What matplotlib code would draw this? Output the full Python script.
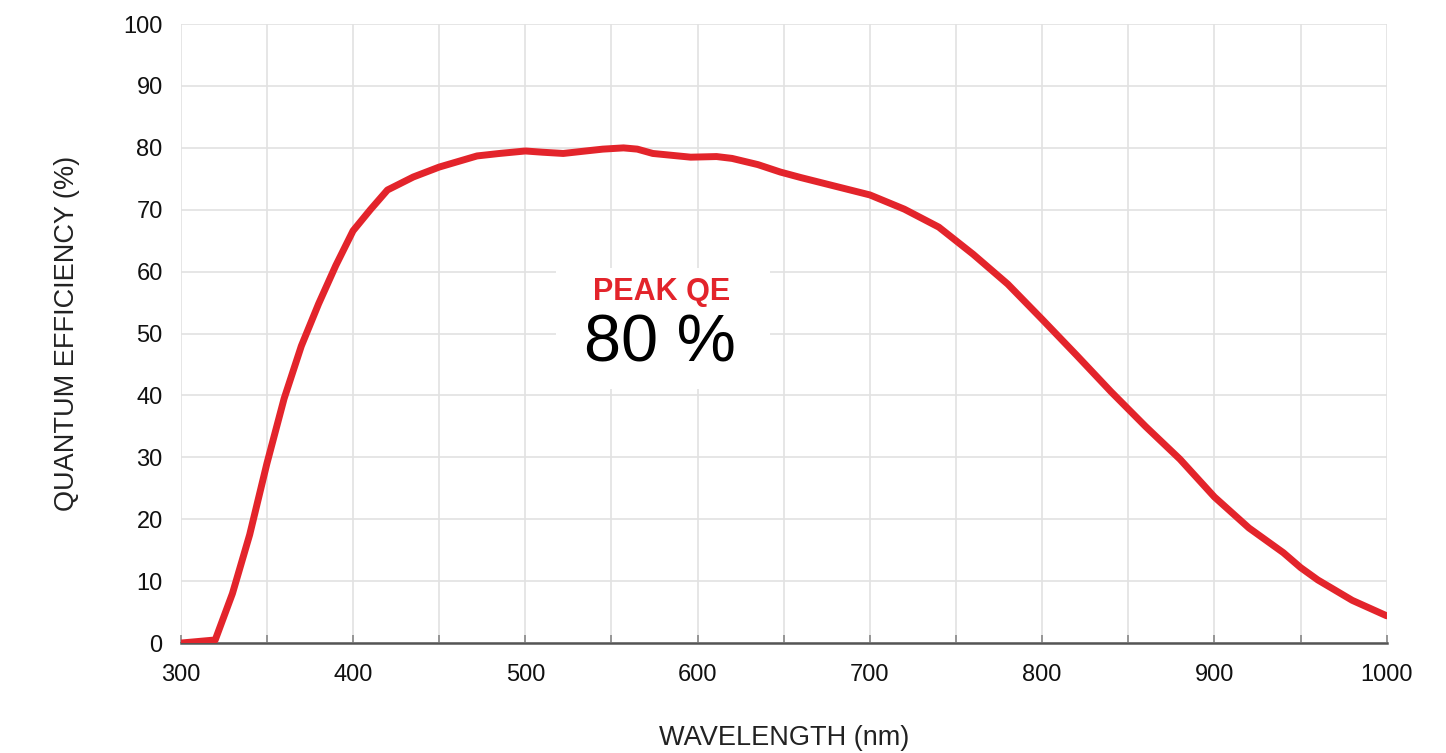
import numpy as np
import matplotlib.pyplot as plt
from matplotlib.patches import Rectangle

# QE curve
wavelength = [300, 320, 330, 340, 350, 360, 370, 380, 390, 400, 410, 420, 435, 450,
              472, 485, 500, 510, 522, 535, 545, 557, 565, 574, 585, 596, 611, 620,
              635, 648, 660, 680, 700, 720, 740, 760, 780, 800, 820, 840, 860, 880,
              900, 920, 940, 950, 960, 980, 1000]
qe = [0.0, 0.5, 8.0, 17.5, 29.0, 39.5, 48.0, 54.8, 61.0, 66.6, 70.0, 73.2, 75.3, 76.9,
      78.7, 79.1, 79.5, 79.3, 79.1, 79.5, 79.8, 80.0, 79.8, 79.1, 78.8, 78.5, 78.6, 78.3,
      77.3, 76.1, 75.2, 73.8, 72.4, 70.1, 67.2, 62.8, 58.0, 52.3, 46.5, 40.6, 35.0, 29.7,
      23.6, 18.6, 14.6, 12.2, 10.2, 6.9, 4.4]

peak_label = "PEAK QE"
peak_value = "80 %"

red = '#e3242b'
plt.rcParams['font.family'] = ['Liberation Sans', 'DejaVu Sans']

fig = plt.figure(figsize=(14.46, 7.53), dpi=100)
ax = fig.add_axes([0.125, 0.146, 0.834, 0.822])

ax.plot(wavelength, qe, color=red, lw=5.0, solid_capstyle='round',
        solid_joinstyle='round', zorder=4)

ax.set_xlim(300, 1000)
ax.set_ylim(0, 100)
ax.set_xticks(np.arange(300, 1001, 100))
ax.set_xticks(np.arange(350, 1000, 100), minor=True)
ax.set_yticks(np.arange(0, 101, 10))
ax.grid(True, which='both', color='#e2e2e2', lw=1.2, zorder=0)
ax.set_axisbelow(True)

for s in ['top', 'right', 'left']:
    ax.spines[s].set_visible(False)
ax.spines['bottom'].set_color('#555555')
ax.spines['bottom'].set_linewidth(1.8)
ax.spines['bottom'].set_zorder(3)

ax.tick_params(axis='x', which='both', direction='in', length=6, width=1.2,
               color='#888888', labelsize=17, pad=15, labelcolor='#111111')
ax.tick_params(axis='y', length=0, labelsize=17, pad=13, labelcolor='#111111')

ax.set_xlabel('WAVELENGTH (nm)', fontsize=19.5, labelpad=28, color='#222222')
ax.set_ylabel('QUANTUM EFFICIENCY (%)', fontsize=19.5, labelpad=31, color='#222222')

# white label box hiding the grid behind the peak annotation
ax.add_patch(Rectangle((518, 41), 124, 19.6, facecolor='white', edgecolor='none', zorder=2))
ax.text(0.399, 0.567, peak_label, transform=ax.transAxes,
        ha='center', va='center', fontsize=22, fontweight='bold', color=red, zorder=5)
ax.text(0.397, 0.483, peak_value, transform=ax.transAxes,
        ha='center', va='center', fontsize=48, color='black', zorder=5)

fig.savefig('out.png', dpi=100, facecolor='white')
